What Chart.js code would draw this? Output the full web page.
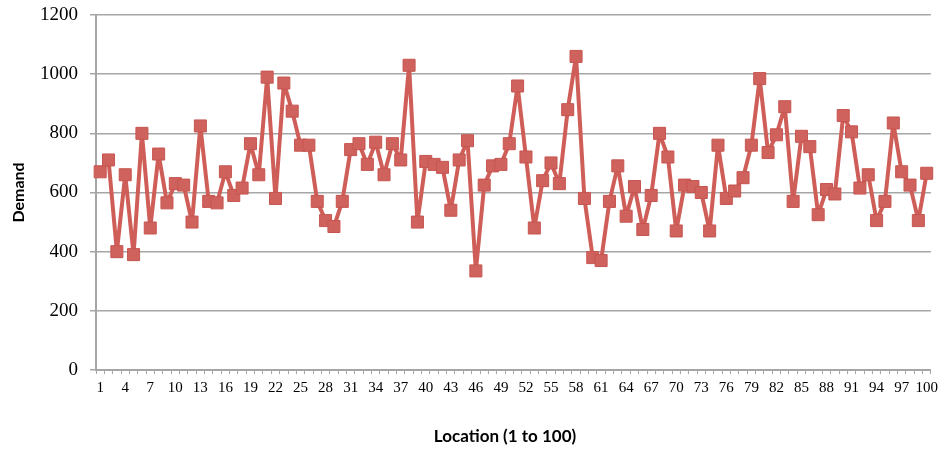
<!DOCTYPE html>
<html>
<head>
<meta charset="utf-8">
<script src="https://cdn.jsdelivr.net/npm/chart.js@4"></script>
<style>
  html, body { margin: 0; padding: 0; background: #ffffff; }
  #wrap { width: 943px; height: 452px; position: relative; }
</style>
</head>
<body>
<div id="wrap"><canvas id="chart"></canvas></div>
<script>
// Locations 1..100
const locations = Array.from({ length: 100 }, (_, i) => String(i + 1));

// Demand per location
const demand = [
  670, 710, 400, 660, 390, 800, 480, 730, 565, 630,
  625, 500, 825, 570, 565, 670, 590, 615, 765, 660,
  990, 580, 970, 875, 760, 760, 570, 505, 485, 570,
  745, 765, 695, 770, 660, 765, 710, 1030, 500, 705,
  695, 685, 540, 710, 775, 335, 625, 690, 695, 765,
  960, 720, 480, 640, 700, 630, 880, 1060, 580, 380,
  370, 570, 690, 520, 620, 475, 590, 800, 720, 470,
  625, 620, 600, 470, 760, 580, 605, 650, 760, 985,
  735, 795, 890, 570, 790, 755, 525, 610, 595, 860,
  805, 615, 660, 505, 570, 835, 670, 625, 505, 665
];

// Y axis range and step
const yMin = 0;
const yMax = 1200;
const yStep = 200;

// Every third location gets a label
const labelEvery = 3;

const xTitle = 'Location (1 to 100)';
const yTitle = 'Demand';

const axisGray = '#a6a6a6';
const titleFont = 'bold 17px Lato, "Open Sans", sans-serif';

// Horizontal axis title, centred under the plot
const xTitlePlugin = {
  id: 'xTitle',
  afterDraw(chart) {
    const { ctx } = chart;
    ctx.save();
    ctx.font = titleFont;
    ctx.fillStyle = '#000000';
    ctx.textAlign = 'center';
    ctx.textBaseline = 'middle';
    ctx.fillText(xTitle, 505, 437);
    ctx.restore();
  }
};

new Chart(document.getElementById('chart'), {
  type: 'line',
  data: {
    labels: locations,
    datasets: [{
      data: demand,
      borderColor: '#cf5e59',
      borderWidth: 4,
      borderJoinStyle: 'round',
      borderCapStyle: 'round',
      tension: 0,
      pointStyle: 'rect',
      pointRadius: 8.5,
      pointBackgroundColor: '#d0625d',
      pointBorderColor: '#c65550',
      pointBorderWidth: 1
    }]
  },
  plugins: [xTitlePlugin],
  options: {
    responsive: true,
    maintainAspectRatio: false,
    animation: false,
    layout: { padding: { left: 0, right: 10, top: 15, bottom: 0 } },
    plugins: {
      legend: { display: false },
      tooltip: { enabled: false }
    },
    scales: {
      x: {
        type: 'category',
        offset: true,
        grid: {
          display: true,
          drawOnChartArea: false,
          drawTicks: true,
          tickLength: 4,
          color: axisGray,
          lineWidth: 1,
          offset: true
        },
        border: { display: true, color: axisGray, width: 2 },
        ticks: {
          autoSkip: false,
          maxRotation: 0,
          minRotation: 0,
          padding: 5,
          color: '#000000',
          font: { family: '"Liberation Serif", "Times New Roman", serif', size: 15 },
          callback: function (value, index) {
            return index % labelEvery === 0 ? this.getLabelForValue(value) : '';
          }
        },
        afterFit: (scale) => { scale.height = 82; }
      },
      y: {
        min: yMin,
        max: yMax,
        ticks: {
          stepSize: yStep,
          padding: 12,
          color: '#000000',
          font: { family: '"Liberation Serif", "Times New Roman", serif', size: 19 },
          callback: (value) => String(value)
        },
        grid: {
          color: axisGray,
          lineWidth: 1.5,
          tickLength: 6,
          drawTicks: true
        },
        border: { display: true, color: axisGray, width: 2 },
        title: {
          display: true,
          text: yTitle,
          color: '#000000',
          font: { family: 'Lato, "Open Sans", sans-serif', size: 16, weight: 'bold' },
          padding: { top: 9, bottom: 0 }
        },
        afterFit: (scale) => {
          scale.width = 96;
          scale.paddingTop = 0;
          scale.paddingBottom = 0;
        }
      }
    }
  }
});
</script>
</body>
</html>
